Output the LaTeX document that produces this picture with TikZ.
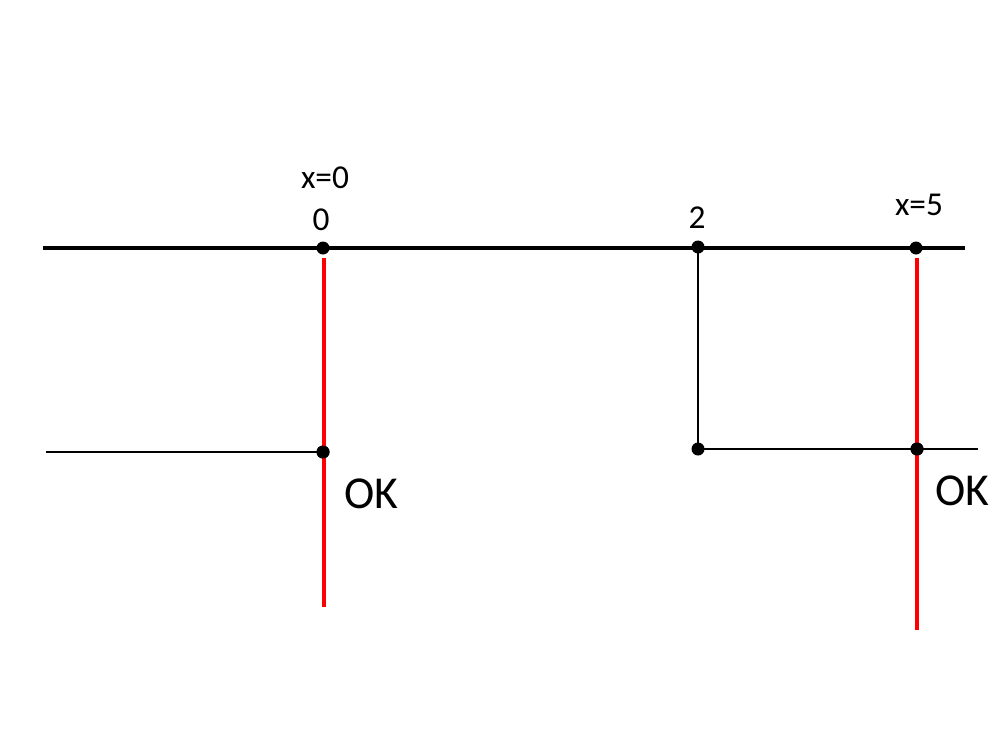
\documentclass[tikz,border=0pt]{standalone}
\usepackage{fontspec}
\setmainfont{Carlito}
\usepackage{tikz}
\usetikzlibrary{positioning}
\definecolor{CheckRed}{HTML}{FF0000}

\begin{document}
\begin{tikzpicture}[
      x=0.02cm, y=-0.02cm,
      joint/.style={circle, fill=black, minimum size=7.4pt, inner sep=0pt},
      axis/.style={black, line width=2.3pt},
      wire/.style={black, line width=1.5pt},
      probe/.style={CheckRed, line width=2.3pt},
      tag/.style={font=\fontsize{19}{21}\selectfont, inner sep=0pt},
      verdict/.style={font=\fontsize{26}{30}\selectfont, inner sep=0pt}
  ]
    \useasboundingbox (0,0) rectangle (1000,750);
    % main line
    \coordinate (ml) at (43,248);
    \coordinate (mr) at (965,248);
    \draw[axis] (ml) -- (mr);
    % lower lines
    \coordinate (ll) at (46,452);
    \coordinate (lr) at (978,449);
    % red probes
    \coordinate (pa) at (324,258);
    \coordinate (pb) at (324,607);
    \coordinate (pc) at (917,258);
    \coordinate (pd) at (917,630);
    \node[joint](j0) at (323,248){};
    \node[joint](j2) at (698,247){};
    \node[joint](j5) at (916,248){};
    \node[joint](k0) at (323,452){};
    \node[joint](k2) at (698,449){};
    \node[joint](k5) at (917,449){};
    \draw[probe] (pa) -- (pb);
    \draw[probe] (pc) -- (pd);
    \draw[wire] (ll) -- (k0.center);
    \draw[wire] (j2.center) -- (k2.center);
    \draw[wire] (k2.center) -- (lr);
    \node[joint] at (k0){};
    \node[joint] at (k5){};
    % labels
    \node[tag] at (325,178){x=0};
    \node[tag] at (321,220){0};
    \node[tag] at (697,218){2};
    \node[tag] at (919,205){x=5};
    \node[verdict] at (371,494){OK};
    \node[verdict] at (962,491){OK};
  \end{tikzpicture}
\end{document}
